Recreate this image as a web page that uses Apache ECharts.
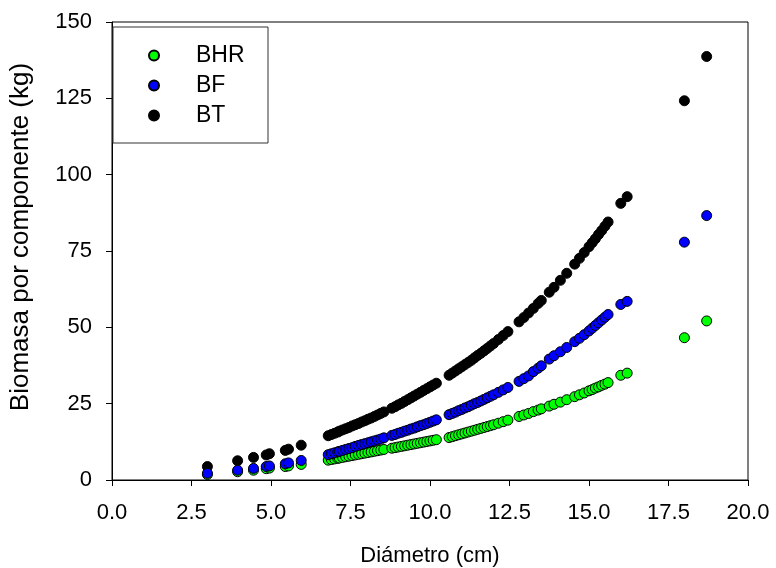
<!DOCTYPE html>
<html>
<head>
<meta charset="utf-8">
<script src="https://cdn.jsdelivr.net/npm/echarts@6/dist/echarts.min.js"></script>
<style>
  html, body { margin: 0; padding: 0; background: #fff; }
  #chart { width: 776px; height: 568px; }
</style>
</head>
<body>
<div id="chart"></div>
<script>
// diametro (cm) de cada arbol
const diametros = [
  3.0, 3.95, 4.45, 4.85, 4.95, 5.45, 5.55, 5.95,
  6.8, 6.9, 7.0, 7.1, 7.15, 7.25, 7.35, 7.45, 7.55, 7.65, 7.75, 7.85, 7.95,
  8.05, 8.15, 8.25, 8.35, 8.45, 8.55, 8.8, 8.9, 9.0, 9.1, 9.2, 9.3, 9.4,
  9.5, 9.6, 9.7, 9.8, 9.9, 10.0, 10.1, 10.2,
  10.6, 10.7, 10.8, 10.9, 11.0, 11.1, 11.2, 11.3, 11.4, 11.5, 11.6, 11.7,
  11.8, 11.9, 12.0, 12.15, 12.3, 12.45,
  12.8, 12.95, 13.1, 13.25, 13.4, 13.5, 13.75, 13.9, 14.1, 14.3,
  14.55, 14.7, 14.85, 15.0, 15.1, 15.2, 15.3, 15.4, 15.5, 15.6,
  16.0, 16.2, 18.0, 18.7
];
const bhr = [
  1.8, 2.7, 3.2, 3.7, 3.9, 4.4, 4.6, 5.1,
  6.5, 6.7, 6.9, 7.1, 7.2, 7.4, 7.6, 7.8, 8.0, 8.2, 8.4, 8.6, 8.8,
  9.0, 9.2, 9.4, 9.6, 9.8, 10.0, 10.4, 10.6, 10.8, 11.0, 11.2, 11.4, 11.6,
  11.8, 12.0, 12.2, 12.4, 12.6, 12.8, 13.0, 13.2,
  13.9, 14.2, 14.5, 14.8, 15.1, 15.4, 15.7, 16.0, 16.3, 16.6, 16.9, 17.2,
  17.5, 17.8, 18.1, 18.6, 19.1, 19.6,
  20.8, 21.3, 21.8, 22.4, 22.9, 23.3, 24.2, 24.8, 25.5, 26.3,
  27.3, 27.9, 28.5, 29.2, 29.6, 30.1, 30.5, 31.0, 31.4, 31.9,
  34.3, 35.0, 46.6, 52.1
];
const bf = [
  2.2, 3.2, 3.8, 4.4, 4.6, 5.3, 5.6, 6.4,
  8.3, 8.6, 8.9, 9.2, 9.4, 9.7, 10.0, 10.3, 10.6, 11.0, 11.3, 11.6, 11.9,
  12.2, 12.5, 12.8, 13.1, 13.4, 13.8, 14.6, 14.9, 15.3, 15.6, 16.0, 16.3, 16.7,
  17.0, 17.4, 17.8, 18.1, 18.5, 18.9, 19.3, 19.7,
  21.4, 21.8, 22.2, 22.7, 23.1, 23.6, 24.0, 24.5, 25.0, 25.4, 25.9, 26.4,
  26.9, 27.4, 27.9, 28.7, 29.5, 30.3,
  32.3, 33.2, 34.1, 35.5, 36.6, 37.4, 39.6, 40.7, 42.0, 43.4,
  45.3, 46.4, 47.6, 48.8, 49.7, 50.6, 51.5, 52.4, 53.3, 54.2,
  57.5, 58.5, 77.9, 86.6
];
const bt = [
  4.4, 6.3, 7.4, 8.2, 8.6, 9.7, 10.1, 11.4,
  14.5, 14.9, 15.3, 15.7, 16.0, 16.4, 16.8, 17.2, 17.7, 18.1, 18.5, 19.0, 19.4,
  19.9, 20.3, 20.8, 21.3, 21.8, 22.3, 23.5, 24.0, 24.6, 25.1, 25.7, 26.3, 26.9,
  27.5, 28.1, 28.7, 29.3, 29.9, 30.5, 31.1, 31.7,
  34.3, 35.0, 35.7, 36.4, 37.1, 37.8, 38.5, 39.2, 40.0, 40.8, 41.5, 42.3,
  43.1, 43.9, 44.7, 46.0, 47.3, 48.6,
  51.8, 53.2, 54.7, 56.2, 57.8, 58.8, 61.5, 63.1, 65.4, 67.7,
  70.7, 72.6, 74.5, 76.4, 77.7, 79.0, 80.4, 81.7, 83.1, 84.5,
  90.6, 92.8, 124.2, 138.7
];
const nombres = ['BHR', 'BF', 'BT'];
const colores = { BHR: '#00ff00', BF: '#0000ff', BT: '#000000' };

const fuente = 'Liberation Sans, Arial, sans-serif';
const pares = (ys) => diametros.map((d, i) => [d, ys[i]]);

const serie = (name, ys) => ({
  name: name,
  type: 'scatter',
  data: pares(ys),
  symbol: 'circle',
  symbolSize: 10,
  itemStyle: { color: colores[name], borderColor: '#000', borderWidth: 1, opacity: 1 },
  emphasis: { disabled: true }
});

const chart = echarts.init(document.getElementById('chart'));
chart.setOption({
  animation: false,
  textStyle: { fontFamily: fuente },
  grid: {
    left: 112, right: 28, top: 22, bottom: 88,
    outerBoundsMode: 'none',
    show: true, borderColor: '#000', borderWidth: 1
  },
  legend: {
    data: nombres,
    orient: 'vertical',
    left: 113, top: 27,
    padding: [17, 0, 16, 35],
    itemWidth: 10, itemHeight: 10,
    itemGap: 7,
    borderColor: '#333', borderWidth: 1,
    textStyle: {
      fontFamily: fuente, fontSize: 23, color: '#000', lineHeight: 23,
      width: 72, padding: [0, 0, 0, 32]
    }
  },
  xAxis: {
    type: 'value',
    min: 0, max: 20, interval: 2.5,
    name: 'Diámetro (cm)',
    nameLocation: 'middle',
    nameGap: 65,
    nameTextStyle: { fontFamily: fuente, fontSize: 22, color: '#000' },
    axisLine: { onZero: false, lineStyle: { color: '#000', width: 1 } },
    axisTick: { show: true, inside: false, length: 6, lineStyle: { color: '#000' } },
    axisLabel: { margin: 22, fontFamily: fuente, fontSize: 22, color: '#000',
      formatter: v => v.toFixed(1) },
    splitLine: { show: false }
  },
  yAxis: {
    type: 'value',
    min: 0, max: 150, interval: 25,
    name: 'Biomasa por componente (kg)',
    nameLocation: 'middle',
    nameGap: 78,
    nameTextStyle: { fontFamily: fuente, fontSize: 26, color: '#000', padding: [0, 0, 0, 28] },
    axisLine: { show: true, onZero: false, lineStyle: { color: '#000', width: 1 } },
    axisTick: { show: true, inside: false, length: 6, lineStyle: { color: '#000' } },
    axisLabel: { margin: 20, fontFamily: fuente, fontSize: 22, color: '#000' },
    splitLine: { show: false }
  },
  // BT se dibuja primero, BF queda encima de BHR
  series: [serie('BT', bt), serie('BHR', bhr), serie('BF', bf)]
});
</script>
</body>
</html>
